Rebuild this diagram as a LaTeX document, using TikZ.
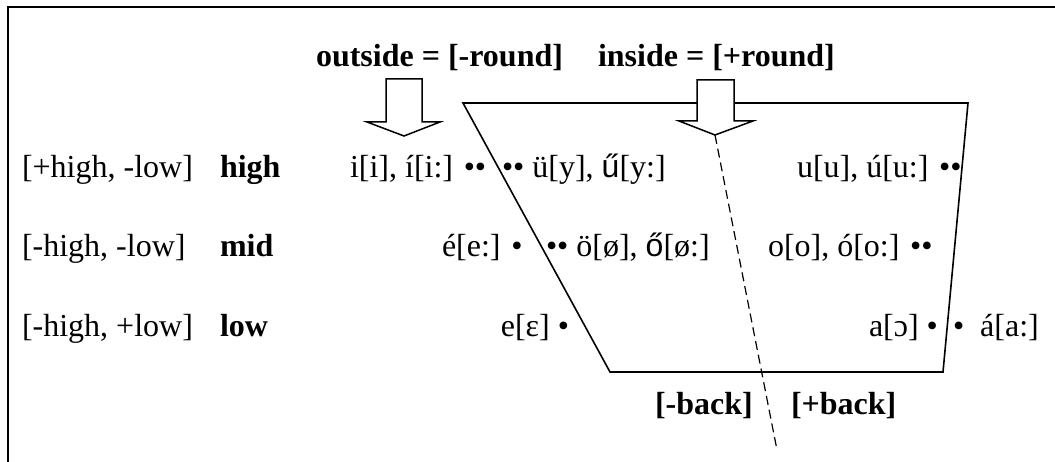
\documentclass[tikz,border=0pt]{standalone}
\usepackage{fontspec}
\setmainfont{Liberation Serif}
\newfontfamily\sansf{Liberation Sans}
\begin{document}
\begin{tikzpicture}[x=1pt,y=-1pt,
  lbl/.style={inner sep=0pt, outer sep=0pt, anchor=base west, font=\fontsize{32}{38}\selectfont},
  bld/.style={lbl, font=\fontsize{32}{38}\selectfont\bfseries},
  lble/.style={lbl, anchor=base east},
  edgeline/.style={line width=1.6pt, line join=miter},
  bigarrow/.style={draw, line width=1.5pt, fill=white, line join=miter},
  divider/.style={line width=1.2pt, dash pattern=on 9pt off 5pt}]
\useasboundingbox (0,0) rectangle (1055,462);
% frame
\draw[line width=2pt] (1060,7.5) -- (7.5,7.5) -- (7.5,470);
% trapezoid
\coordinate (tl) at (463,103);
\coordinate (tr) at (968,103);
\coordinate (br) at (943,372);
\coordinate (bl) at (610,372);
\draw[edgeline] (tl) -- (tr) -- (br) -- (bl) -- cycle;
% heading
\node[bld] (outside) at (316,67) {outside = [-round]};
\node[bld] (inside) at (598,67) {inside = [+round]};
% arrows
\coordinate (a1tip) at (404,136);
\coordinate (a2tip) at (715,135);
\filldraw[bigarrow] (386,79) -- (422,79) -- (422,122) -- (440,122) -- (a1tip) -- (367,122) -- (386,122) -- cycle;
\filldraw[bigarrow] (697,80) -- (734,80) -- (734,121) -- (753,121) -- (a2tip) -- (679,121) -- (697,121) -- cycle;
% dashed divider
\coordinate (dend) at (777,450);
\draw[divider] (a2tip) -- (dend);
% row labels
\node[lbl] (f1) at (22,178) {[+high, -low]};
\node[lbl] (f2) at (22,257) {[-high, -low]};
\node[lbl] (f3) at (22,337) {[-high, +low]};
\node[bld] (h1) at (220,178) {high};
\node[bld] (h2) at (220,257) {mid};
\node[bld] (h3) at (220,337) {low};
% vowels
\node[lbl] (v1) at (350,178) {i[i], í[i:] ••};
\node[lbl] (v2) at (502,178) {•• ü[y], {\sansf ű}[y:]};
\node[lbl] (v3) at (797,178) {u[u], ú[u:] ••};
\node[lbl] (v4) at (442,257) {é[e:] •};
\node[lbl] (v5) at (546,257) {•• ö[ø], {\sansf ő}[ø:]};
\node[lbl] (v6) at (768,257) {o[o], ó[o:] ••};
\node[lble] (v7) at (569,337) {e[ɛ] •};
\node[lbl] (v8) at (869,337) {a[ɔ] •};
\node[lbl] (v9) at (953,337) {•\hspace{0.5em}á[a:]};
% back labels
\node[bld] (b1) at (655,414) {[-back]};
\node[bld] (b2) at (791,414) {[+back]};
\end{tikzpicture}
\end{document}
